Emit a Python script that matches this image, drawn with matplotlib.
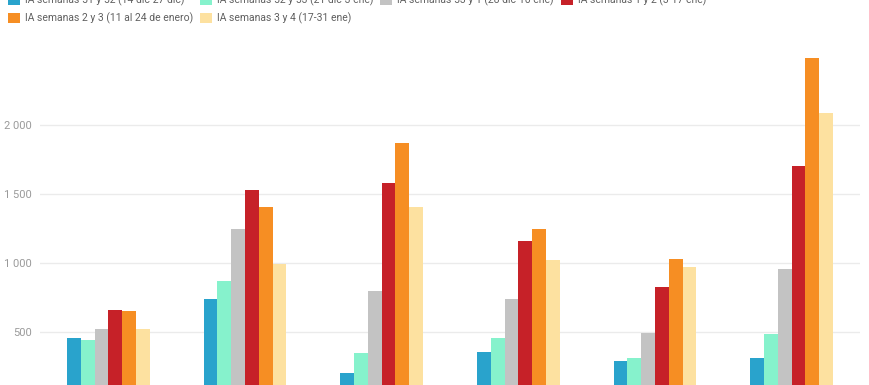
import matplotlib.pyplot as plt
from matplotlib.patches import Patch
from matplotlib.ticker import FuncFormatter
import numpy as np

plt.rcParams['font.family'] = ['Roboto', 'DejaVu Sans']

# x axis labels are cut off in the reference, so the groups are just numbered
groups = ['Grupo 1', 'Grupo 2', 'Grupo 3', 'Grupo 4', 'Grupo 5', 'Grupo 6']

series_names = [
    'IA semanas 51 y 52 (14 dic-27 dic)',
    'IA semanas 52 y 53 (21 dic-3 ene)',
    'IA semanas 53 y 1 (28 dic-10 ene)',
    'IA semanas 1 y 2 (3-17 ene)',
    'IA semanas 2 y 3 (11 al 24 de enero)',
    'IA semanas 3 y 4 (17-31 ene)',
]
ia_51_52 = [456, 739, 205, 359, 294, 316]
ia_52_53 = [444, 874, 348, 456, 316, 488]
ia_53_1 = [526, 1251, 797, 739, 497, 961]
ia_1_2 = [664, 1531, 1580, 1159, 830, 1707]
ia_2_3 = [652, 1410, 1870, 1249, 1031, 2486]
ia_3_4 = [526, 997, 1410, 1024, 973, 2089]

series = [ia_51_52, ia_52_53, ia_53_1, ia_1_2, ia_2_3, ia_3_4]
colors = ['#29a3cc', '#86f2cc', '#c3c3c3', '#c62128', '#f68e23', '#fde1a0']

fig = plt.figure(figsize=(8.69, 3.85), dpi=100)
# zero line sits below the visible area, like in the cropped original
ax = fig.add_axes([40 / 869, -0.0423, 820 / 869, 0.914])

x = np.arange(len(groups))
w = 0.101
for i, (vals, c) in enumerate(zip(series, colors)):
    ax.bar(x + (i - 2.5) * w, vals, width=w, color=c, linewidth=0, zorder=3)

ax.set_xlim(-0.5, 5.5)
ax.set_ylim(0, 2550)
ax.set_yticks([500, 1000, 1500, 2000])
ax.yaxis.set_major_formatter(FuncFormatter(lambda v, p: f'{int(v):,}'.replace(',', ' ')))
ax.tick_params(axis='y', length=0, pad=6, labelsize=8, labelcolor='#9a9a9a')
ax.set_xticks([])
ax.grid(axis='y', color='#ebebeb', linewidth=1, zorder=0)
for s in ax.spines.values():
    s.set_visible(False)

# matplotlib fills legend columns first, so reorder to get the rows right
order = [0, 4, 1, 5, 2, 3]
handles = [Patch(facecolor=colors[i], edgecolor='none') for i in order]
labels = [series_names[i] for i in order]
fig.legend(handles, labels, loc='upper left', bbox_to_anchor=(0.0092, 1.014),
           ncol=4, frameon=False, fontsize=7.5, labelcolor='#5f5f5f',
           handlelength=1.15, handleheight=1.15, handletextpad=0.45,
           columnspacing=0.7, labelspacing=0.6, borderpad=0, borderaxespad=0)

fig.savefig('out.png', dpi=100)
